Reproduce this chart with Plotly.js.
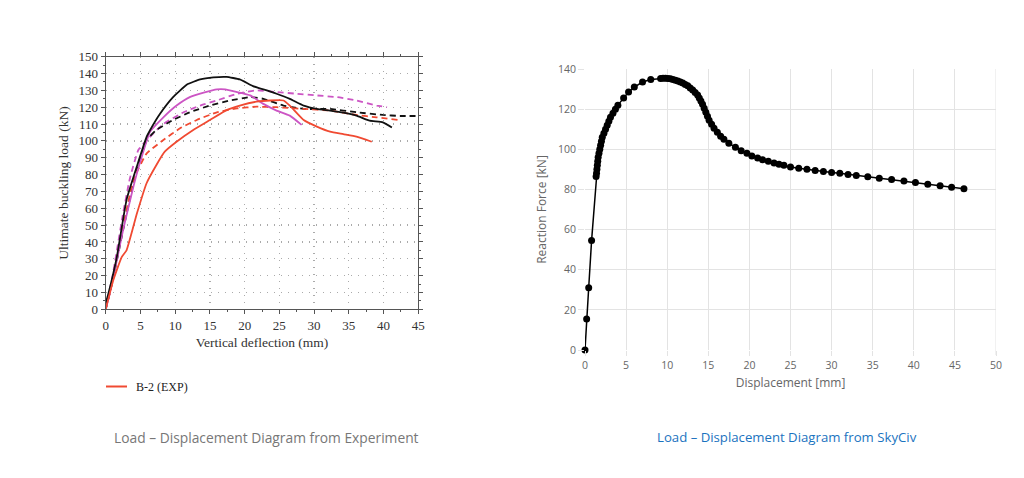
<!DOCTYPE html>
<html><head><meta charset="utf-8">
<script src="https://cdn.plot.ly/plotly-3.0.1.min.js"></script>
<style>html,body{margin:0;padding:0;background:#fff}#c{width:1024px;height:478px}</style>
</head><body><div id="c"></div>
<script>
// ---- Left chart (experiment) ----
const blackSolidX = [0, 0.4, 1.6, 3.0, 4.5, 5.9, 6.4, 7.8, 9.7, 11.7, 13.6, 15.5, 17.4, 19.3, 21.2, 22.7, 24.6, 26.5, 28.5, 30.4, 32.3, 34.2, 36.1, 38.0, 39.9, 41.2];
const blackSolidY = [3.5, 9.5, 31, 65, 85, 102.5, 106.5, 116, 126, 133.5, 136.5, 137.7, 138, 136.5, 132.5, 130.6, 128, 125, 121, 119, 118, 116.8, 115, 112, 111, 108];

const magentaSolidX = [0, 0.5, 1.5, 2.5, 4.0, 5.0, 6.4, 8.3, 10.2, 12.1, 14.1, 16.0, 17.2, 18.9, 20.8, 22.7, 24.6, 26.5, 28.2];
const magentaSolidY = [0, 8, 27, 47, 73, 88, 105.5, 114, 121, 126, 128.6, 130.6, 130.6, 129, 127, 122, 118, 115, 109.5];

const magentaDashX = [0, 1.0, 2.5, 3.5, 4.7, 5.9, 8.3, 11.2, 13.6, 16.0, 18.9, 21.7, 24.6, 27.5, 30.4, 33.3, 36.1, 39.0, 40.5];
const magentaDashY = [0, 20, 57, 78, 94.6, 100.5, 110, 117, 121, 124, 128, 130, 129, 128, 127, 126, 124, 121, 120];

const blackDashX = [0, 1.0, 2.5, 4.0, 5.9, 7.3, 9.7, 12.1, 15.0, 17.9, 20.8, 22.7, 25.6, 28.5, 32.3, 36.1, 39.9, 42.4, 45.0];
const blackDashY = [0, 17, 47, 75, 100.5, 106.5, 112.4, 117, 121, 124, 126, 125, 121, 119, 119, 117, 115.4, 114.8, 114.8];

const redDashX = [0, 1.0, 2.1, 4.0, 5.9, 8.3, 10.7, 13.1, 16.0, 18.9, 21.7, 24.6, 28.5, 32.3, 36.1, 39.0, 42.1];
const redDashY = [0, 17, 41, 77, 92.6, 100.5, 107.5, 112.4, 117, 119.3, 120.3, 120, 119, 118, 115.4, 114, 112.4];

const redSolidX = [0, 1.1, 2.3, 3.0, 4.5, 5.9, 7.3, 8.5, 10.2, 12.6, 15.0, 17.4, 19.3, 21.7, 23.7, 25.6, 26.5, 28.5, 30.4, 32.3, 34.2, 36.1, 38.3];
const redSolidY = [0, 17.4, 31, 35, 57, 75, 85.7, 93.6, 99.5, 106.5, 112.4, 118.3, 121, 123.3, 124, 124, 121, 112.4, 108.5, 105.5, 104, 102.5, 99.5];

const legendLabel = "B-2 (EXP)";

// ---- Right chart (SkyCiv) ----
const dispX = [0, 0.2, 0.45, 0.8, 1.35, 1.4, 1.45, 1.5, 1.55, 1.6, 1.7, 1.8, 1.9, 2.0, 2.1, 2.3, 2.5, 2.7, 2.9, 3.1, 3.4, 3.7, 4.0, 4.7, 5.3, 6.0, 7.0, 8.0, 9.2, 9.5, 9.8, 10.1, 10.4, 10.7, 11.0, 11.3, 11.6, 11.9, 12.2, 12.5, 12.8, 13.1, 13.4, 13.7, 13.9, 14.1, 14.3, 14.5, 14.7, 14.9, 15.1, 15.4, 15.7, 16.1, 16.5, 16.9, 17.5, 18.3, 19.0, 19.7, 20.3, 21.0, 21.6, 22.3, 23.0, 23.6, 24.2, 25.0, 26.0, 27.0, 28.0, 29.0, 30.0, 31.0, 32.0, 33.0, 34.4, 35.8, 37.3, 38.8, 40.2, 41.7, 43.2, 44.6, 46.1];
const forceY = [0, 15.5, 31, 54.5, 86.5, 88, 90, 92, 94, 96, 98, 100, 102, 104, 106, 108, 110, 112, 114, 116, 118, 120, 122, 125.5, 128.5, 131, 133.5, 134.8, 135.3, 135.4, 135.4, 135.3, 135.1, 134.8, 134.4, 134, 133.5, 133, 132.3, 131.6, 130.5, 129.5, 128.3, 127, 125.5, 124, 122.5, 120.5, 118.5, 116.5, 114.5, 112.5, 110.5, 108.5, 106.5, 105, 103, 101, 99.3, 98, 96.7, 95.6, 94.8, 94, 93.2, 92.6, 92, 91.2, 90.6, 90, 89.4, 88.9, 88.4, 88, 87.5, 87, 86.3, 85.6, 84.9, 84.2, 83.4, 82.6, 81.8, 81.1, 80.3];

const leftCaption = "Load – Displacement Diagram from Experiment";
const rightCaption = "Load – Displacement Diagram from SkyCiv";

const RED = "#f04a32", MAG = "#cc55c4", BLK = "#111111";
function ln(x, y, color, dash, name) {
  return {x: x, y: y, xaxis: "x", yaxis: "y", type: "scatter", mode: "lines", name: name,
    line: {color: color, width: 1.8, dash: dash, shape: "spline", smoothing: 0.4}, showlegend: false, hoverinfo: "skip"};
}
const traces = [
  ln(magentaDashX, magentaDashY, MAG, "6px,4px"),
  ln(blackDashX, blackDashY, BLK, "6px,4px"),
  ln(redDashX, redDashY, RED, "6px,4px"),
  ln(magentaSolidX, magentaSolidY, MAG, "solid"),
  ln(blackSolidX, blackSolidY, BLK, "solid"),
  ln(redSolidX, redSolidY, RED, "solid", legendLabel),
  {x: dispX, y: forceY, xaxis: "x2", yaxis: "y2", type: "scatter", mode: "lines+markers",
   line: {color: "#000", width: 1.5}, marker: {color: "#000", size: 7}, cliponaxis: false, showlegend: false}
];

const serif = "Liberation Serif, DejaVu Serif, serif";
const sans = "Open Sans, Liberation Sans, sans-serif";
const W = 1024, H = 478;
const layout = {
  width: W, height: H, margin: {l: 0, r: 0, t: 0, b: 0},
  paper_bgcolor: "#fff", plot_bgcolor: "#fff", showlegend: false,
  xaxis: {domain: [105.7/W, 418.3/W], anchor: "y", range: [0, 45], dtick: 5, tick0: 0,
    showline: true, linecolor: "#555", linewidth: 1, mirror: "allticks",
    ticks: "outside", ticklen: 4, tickcolor: "#555",
    showgrid: true, gridcolor: "#aaa", griddash: "1.5px,5.5px", gridwidth: 1.3, zeroline: false,
    minor: {dtick: 2.5, ticks: "outside", ticklen: 2, tickcolor: "#555", showgrid: false},
    tickfont: {family: serif, size: 13, color: "#333"},
    title: {text: "Vertical deflection (mm)", font: {family: serif, size: 13.5, color: "#333"}, standoff: 5},
    automargin: false},
  yaxis: {domain: [(H-309.3)/H, (H-56.7)/H], anchor: "x", range: [0, 150], dtick: 10, tick0: 0,
    showline: true, linecolor: "#555", linewidth: 1, mirror: "allticks",
    ticks: "outside", ticklen: 4, tickcolor: "#555",
    showgrid: true, gridcolor: "#aaa", griddash: "1.5px,5.5px", gridwidth: 1.3, zeroline: false,
    minor: {dtick: 5, ticks: "outside", ticklen: 2, tickcolor: "#555", showgrid: false},
    tickfont: {family: serif, size: 13, color: "#333"},
    title: {text: "Ultimate buckling load (kN)", font: {family: serif, size: 13.5, color: "#333"}, standoff: 6},
    automargin: false},
  xaxis2: {domain: [585/W, 996/W], anchor: "y2", range: [0, 50], dtick: 5, tick0: 0,
    showline: false, zeroline: false, showgrid: true, gridcolor: "#e3e3e3", gridwidth: 1,
    ticks: "outside", ticklen: 5, tickcolor: "#e3e3e3", mirror: false,
    tickfont: {family: sans, size: 10.5, color: "#666"},
    title: {text: "Displacement [mm]", font: {family: sans, size: 12, color: "#666"}, standoff: 8},
    automargin: false},
  yaxis2: {domain: [(H-350)/H, (H-69)/H], anchor: "x2", range: [0, 140], dtick: 20, tick0: 0,
    showline: false, zeroline: false, showgrid: true, gridcolor: "#e3e3e3", gridwidth: 1,
    ticks: "outside", ticklen: 6, tickcolor: "#e3e3e3",
    tickfont: {family: sans, size: 10.5, color: "#666"},
    title: {text: "Reaction Force [kN]", font: {family: sans, size: 12, color: "#666"}, standoff: 8},
    automargin: false},
  shapes: [
    {type: "line", xref: "paper", yref: "paper", x0: 106/W, x1: 127/W, y0: (H-386.5)/H, y1: (H-386.5)/H,
     line: {color: RED, width: 2}},
    {type: "line", xref: "x2", yref: "paper", x0: 50, x1: 50, y0: (H-355)/H, y1: (H-69)/H,
     line: {color: "#e3e3e3", width: 1}, layer: "below"}
  ],
  annotations: [
    {xref: "paper", yref: "paper", x: 134/W, y: (H-386.5)/H, xanchor: "left", yanchor: "middle",
     text: legendLabel, showarrow: false, font: {family: serif, size: 12, color: "#222"}},
    {xref: "paper", yref: "paper", x: 266/W, y: (H-437)/H, xanchor: "center", yanchor: "middle",
     text: leftCaption, showarrow: false, font: {family: sans, size: 13.8, color: "#777"}},
    {xref: "paper", yref: "paper", x: 787/W, y: (H-437)/H, xanchor: "center", yanchor: "middle",
     text: rightCaption, showarrow: false, font: {family: sans, size: 13.2, color: "#1a73c0"}}
  ]
};
Plotly.newPlot("c", traces, layout, {staticPlot: true, displayModeBar: false});
</script>
</body></html>
